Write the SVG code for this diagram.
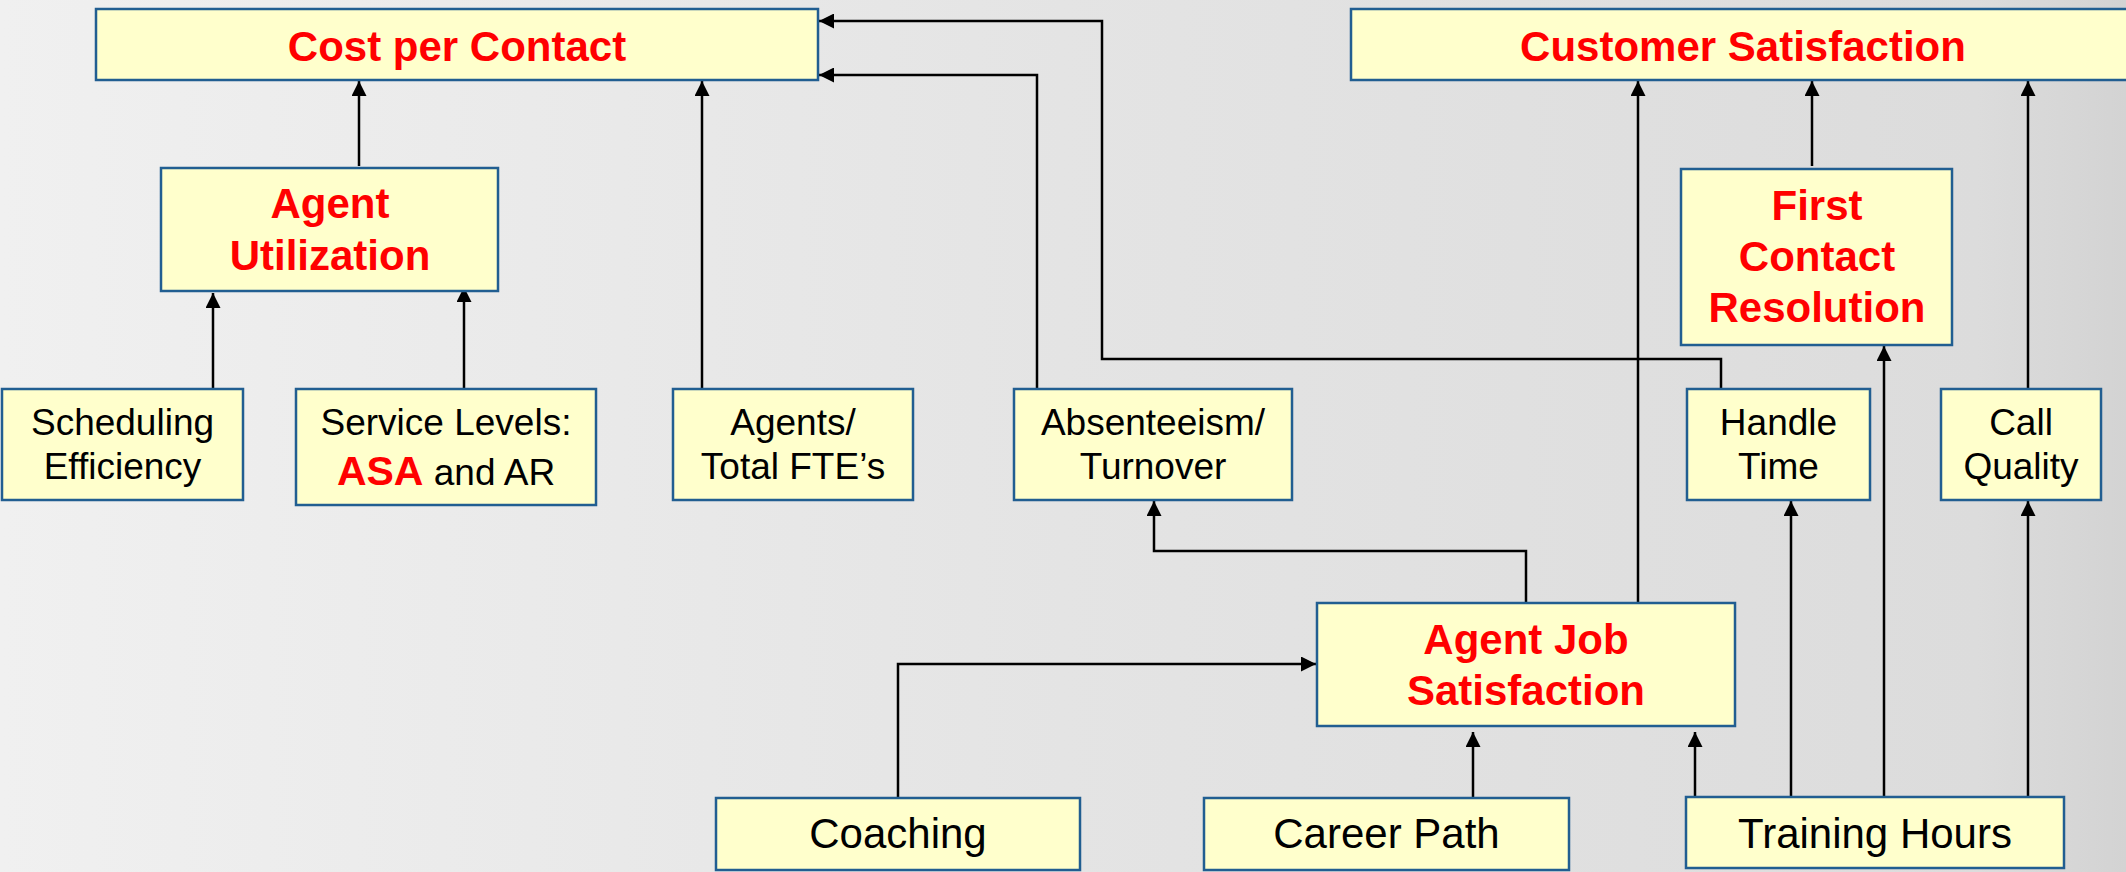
<svg xmlns="http://www.w3.org/2000/svg" width="2126" height="872" viewBox="0 0 2126 872">
  <defs>
    <linearGradient id="bg" x1="0" y1="0" x2="1" y2="0">
      <stop offset="0" stop-color="#f0f0f0"/>
      <stop offset="0.5" stop-color="#e4e4e4"/>
      <stop offset="0.93" stop-color="#dcdcdc"/>
      <stop offset="1" stop-color="#d3d3d3"/>
    </linearGradient>
    <marker id="arr" markerUnits="userSpaceOnUse" markerWidth="15" markerHeight="15" viewBox="0 0 15 15" refX="15" refY="7.5" orient="auto">
      <path d="M0,0 L15,7.5 L0,15 z" fill="#000"/>
    </marker>
  </defs>
  <style>
    .box { fill: #ffffcc; stroke: #215e91; stroke-width: 2.5; }
    .t { font-family: "Liberation Sans", Arial, sans-serif; text-anchor: middle; }
    .key { font-size: 42px; font-weight: bold; fill: #ff0000; }
    .lbl { font-size: 37px; fill: #000; }
    .big { font-size: 42px; fill: #000; }
    .conn { fill: none; stroke: #000; stroke-width: 2.5; marker-end: url(#arr); }
  </style>

  <rect x="0" y="0" width="2126" height="872" fill="url(#bg)"/>

  <!-- connectors -->
  <g id="connectors">
    <path class="conn" d="M359,166 V81"/>
    <path class="conn" d="M213,388 V293"/>
    <path class="conn" d="M464,388 V287"/>
    <path class="conn" d="M702,388 V81"/>
    <path class="conn" d="M1037,388 V75 H819"/>
    <path class="conn" d="M1721,388 V359 H1102 V21 H819"/>
    <path class="conn" d="M1526,603 V551 H1154 V501"/>
    <path class="conn" d="M1638,603 V81"/>
    <path class="conn" d="M1812,166 V81"/>
    <path class="conn" d="M2028,388 V81"/>
    <path class="conn" d="M898,798 V664 H1316"/>
    <path class="conn" d="M1473,798 V732"/>
    <path class="conn" d="M1695,797 V732"/>
    <path class="conn" d="M1791,797 V501"/>
    <path class="conn" d="M1884,797 V346"/>
    <path class="conn" d="M2028,797 V501"/>
  </g>

  <!-- top outcomes -->
  <g id="cost-per-contact">
    <rect class="box" x="96" y="9" width="722" height="71"/>
    <text class="t key" x="457" y="61">Cost per Contact</text>
  </g>
  <g id="customer-satisfaction">
    <rect class="box" x="1351" y="9" width="790" height="71"/>
    <text class="t key" x="1743" y="61">Customer Satisfaction</text>
  </g>

  <!-- middle tier -->
  <g id="agent-utilization">
    <rect class="box" x="161" y="168" width="337" height="123"/>
    <text class="t key" x="330" y="218">Agent</text>
    <text class="t key" x="330" y="270">Utilization</text>
  </g>
  <g id="first-contact-resolution">
    <rect class="box" x="1681" y="169" width="271" height="176"/>
    <text class="t key" x="1817" y="220">First</text>
    <text class="t key" x="1817" y="271">Contact</text>
    <text class="t key" x="1817" y="322">Resolution</text>
  </g>

  <!-- drivers -->
  <g id="scheduling-efficiency">
    <rect class="box" x="2" y="389" width="241" height="111"/>
    <text class="t lbl" x="122.5" y="435">Scheduling</text>
    <text class="t lbl" x="122.5" y="479">Efficiency</text>
  </g>
  <g id="service-levels">
    <rect class="box" x="296" y="389" width="300" height="116"/>
    <text class="t lbl" x="446" y="435">Service Levels:</text>
    <text class="t lbl" x="446" y="485"><tspan style="font-size:41px;font-weight:bold;fill:#ff0000">ASA</tspan> and AR</text>
  </g>
  <g id="agents-fte">
    <rect class="box" x="673" y="389" width="240" height="111"/>
    <text class="t lbl" x="793" y="435">Agents/</text>
    <text class="t lbl" x="793" y="479">Total FTE’s</text>
  </g>
  <g id="absenteeism-turnover">
    <rect class="box" x="1014" y="389" width="278" height="111"/>
    <text class="t lbl" x="1153" y="435">Absenteeism/</text>
    <text class="t lbl" x="1153" y="479">Turnover</text>
  </g>
  <g id="handle-time">
    <rect class="box" x="1687" y="389" width="183" height="111"/>
    <text class="t lbl" x="1778.5" y="435">Handle</text>
    <text class="t lbl" x="1778.5" y="479">Time</text>
  </g>
  <g id="call-quality">
    <rect class="box" x="1941" y="389" width="160" height="111"/>
    <text class="t lbl" x="2021" y="435">Call</text>
    <text class="t lbl" x="2021" y="479">Quality</text>
  </g>

  <g id="agent-job-satisfaction">
    <rect class="box" x="1317" y="603" width="418" height="123"/>
    <text class="t key" x="1526" y="654">Agent Job</text>
    <text class="t key" x="1526" y="705">Satisfaction</text>
  </g>

  <!-- bottom inputs -->
  <g id="coaching">
    <rect class="box" x="716" y="798" width="364" height="72"/>
    <text class="t big" x="898" y="848">Coaching</text>
  </g>
  <g id="career-path">
    <rect class="box" x="1204" y="798" width="365" height="72"/>
    <text class="t big" x="1386.5" y="848">Career Path</text>
  </g>
  <g id="training-hours">
    <rect class="box" x="1686" y="797" width="378" height="71"/>
    <text class="t big" x="1875" y="848">Training Hours</text>
  </g>
</svg>
